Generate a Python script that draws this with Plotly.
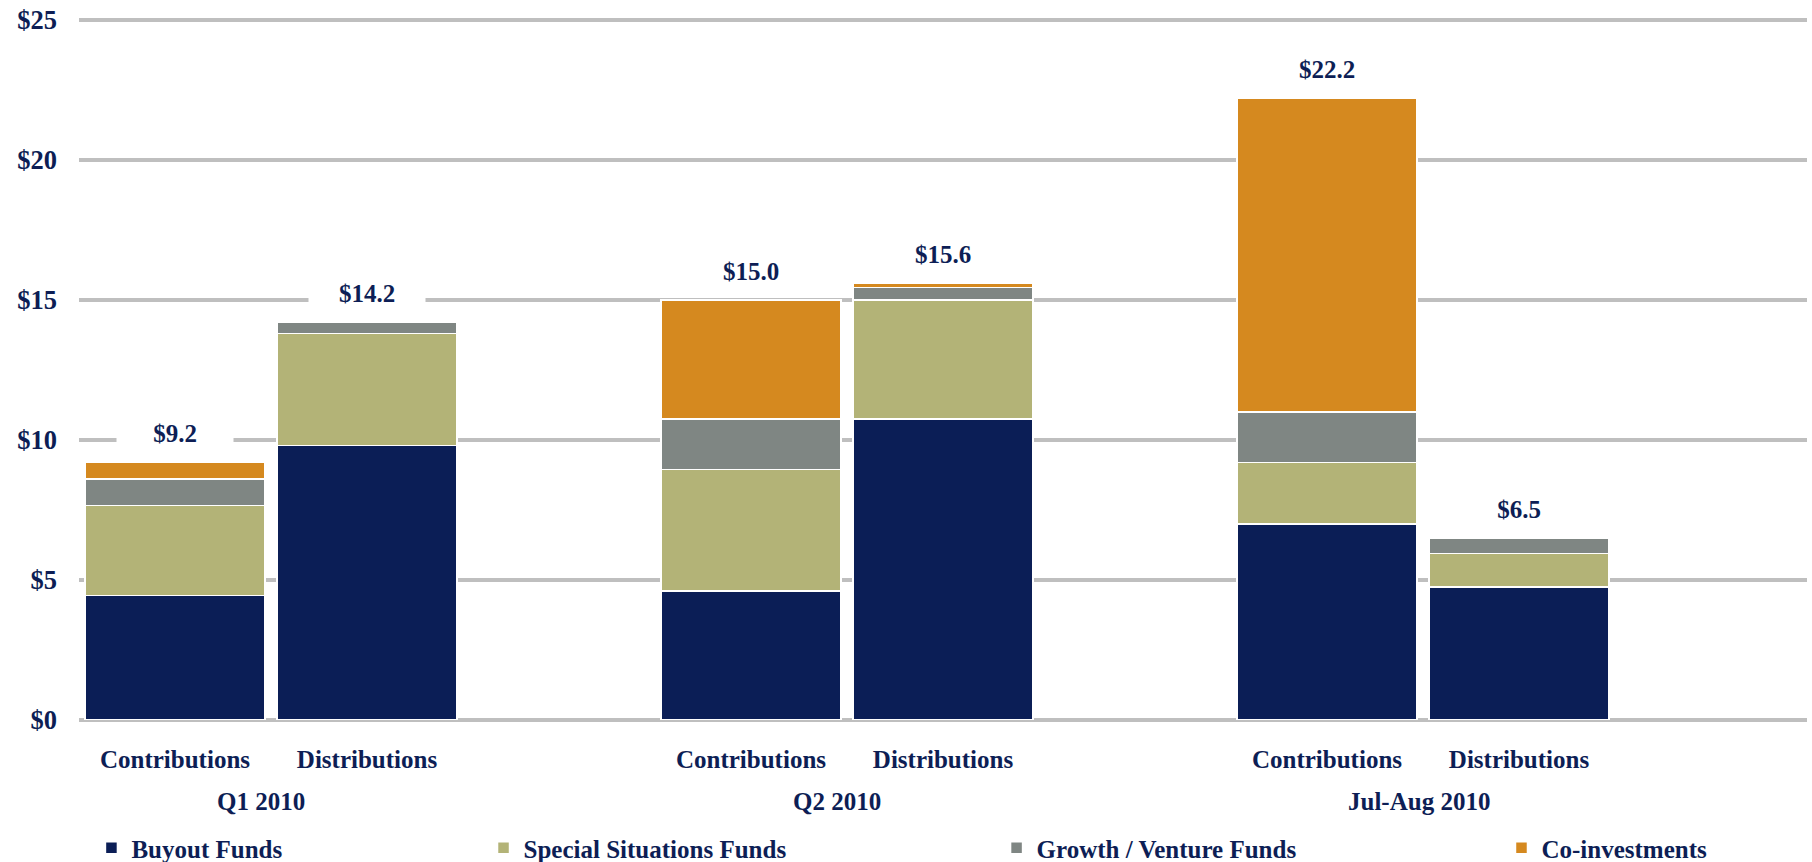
import plotly.graph_objects as go

# ---- data ----
positions = [0, 1, 3, 4, 6, 7]
bar_labels = ["Contributions", "Distributions", "Contributions", "Distributions", "Contributions", "Distributions"]
group_labels = ["Q1 2010", "Q2 2010", "Jul-Aug 2010"]
group_pos = [0.45, 3.45, 6.48]

buyout = [4.45, 9.8, 4.6, 10.75, 7.0, 4.75]
special = [3.2, 4.0, 4.35, 4.25, 2.2, 1.2]
growth = [0.95, 0.4, 1.8, 0.45, 1.8, 0.55]
coinv = [0.6, 0.0, 4.25, 0.15, 11.2, 0.0]

series_names = ["Buyout Funds", "Special Situations Funds", "Growth / Venture Funds", "Co-investments"]
series_vals = [buyout, special, growth, coinv]
colors = ["#0B1E56", "#B3B377", "#7F8683", "#D5891F"]
legend_ids = ["legend", "legend2", "legend3", "legend4"]
legend_x = [0.0072, 0.2341, 0.5310, 0.8232]

totals = [round(sum(v), 1) for v in zip(*series_vals)]

NAVY = "#0D1E55"
FONT = dict(family="Liberation Serif, Times New Roman, serif", size=25, color=NAVY, weight=700)
YFONT = dict(FONT, size=26.5)

fig = go.Figure()
for name, vals, col, lid in zip(series_names, series_vals, colors, legend_ids):
    fig.add_trace(go.Bar(
        x=positions, y=vals, name=name, width=0.94,
        marker=dict(color=col, line=dict(color="white", width=1.5)),
        legend=lid,
    ))

for p, t in zip(positions, totals):
    fig.add_annotation(x=p, y=t, xref="x", yref="y", text=f"${t:.1f}",
                       showarrow=False, yshift=29, yanchor="middle",
                       bgcolor="white", width=114, height=38, font=FONT)

for p, g in zip(group_pos, group_labels):
    fig.add_annotation(x=p, y=-0.1166, xref="x", yref="paper", text=g,
                       showarrow=False, yanchor="middle", font=FONT)

legend_common = dict(orientation="h", xref="paper", yref="container",
                     y=0.0162, yanchor="middle", xanchor="left",
                     font=FONT, bgcolor="rgba(0,0,0,0)", borderwidth=0)
layout_legends = {}
for lid, lx in zip(legend_ids, legend_x):
    layout_legends[lid] = dict(x=lx, **legend_common)

fig.update_layout(
    barmode="stack",
    width=1812, height=862,
    margin=dict(l=79, r=5, t=16.5, b=142, pad=0, autoexpand=False),
    paper_bgcolor="white", plot_bgcolor="white",
    font=FONT,
    showlegend=True,
    xaxis=dict(range=[-0.5, 8.5], tickvals=positions, ticktext=bar_labels,
               showgrid=False, zeroline=False, showline=False, ticks="",
               ticklabelstandoff=22, tickfont=FONT, automargin=False),
    yaxis=dict(range=[0, 25.1], dtick=5, tick0=0, tickprefix="$",
               showgrid=True, gridcolor="#BFBFBF", gridwidth=3.5,
               zeroline=True, zerolinecolor="#BFBFBF", zerolinewidth=3.5,
               showline=False, ticks="", ticklabelstandoff=21, tickfont=YFONT,
               automargin=False),
    **layout_legends,
)

fig.write_html("out.html",
               config={"displayModeBar": False},
               post_script="document.body.style.margin='0';document.body.style.overflow='hidden';")
